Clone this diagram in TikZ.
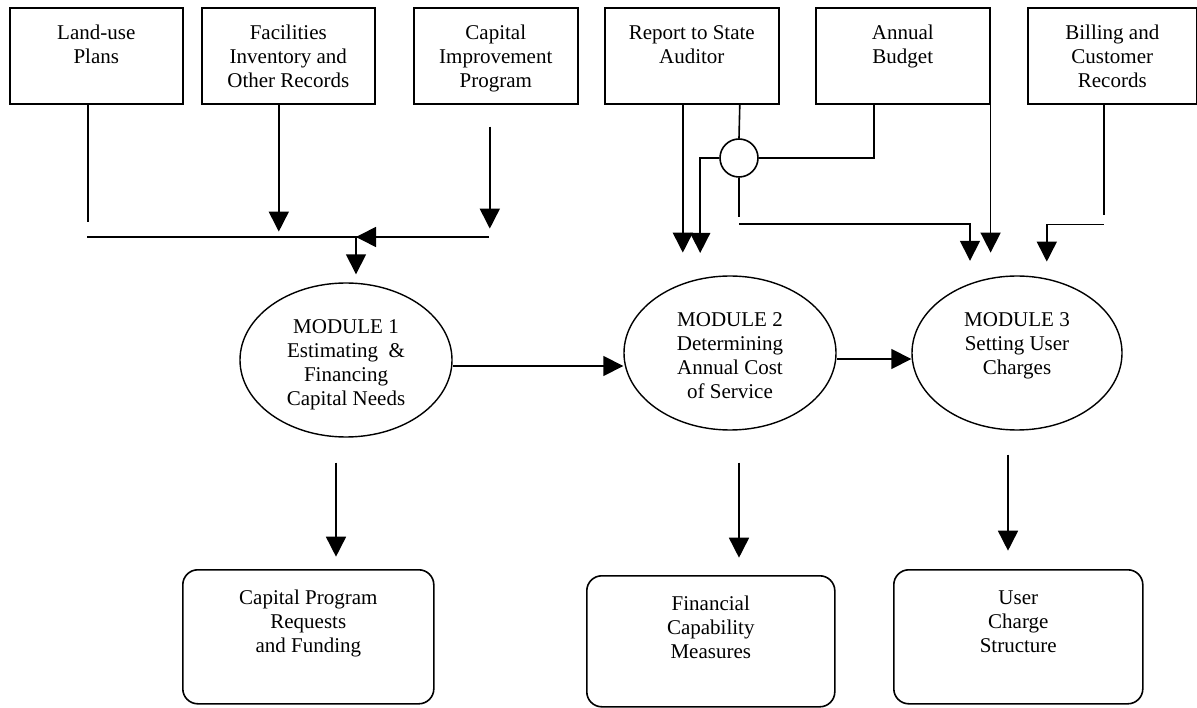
\documentclass[tikz,border=0pt]{standalone}
\usepackage{fontspec}
\setmainfont{Liberation Serif}
\usepackage{tikz}
\usetikzlibrary{arrows.meta,shapes.geometric}

\newcommand{\topbox}[2]{\parbox[c][96pt][t]{#1}{\centering\rule{0pt}{32pt}#2}}
\newcommand{\modtext}[1]{\parbox[c][108pt][t]{148pt}{\centering\rule{0pt}{28pt}#1}}
\newcommand{\outtext}[3]{\parbox[c][#1][t]{#2}{\centering\rule{0pt}{35pt}#3}}

\begin{document}
\begin{tikzpicture}[x=1pt,y=-1pt,>={Triangle[length=20pt,width=20pt]},
  line width=1.6pt,font=\fontsize{21}{24}\selectfont,
  src/.style={draw,inner sep=0pt,anchor=north west},
  module/.style={draw,ellipse,inner sep=0pt,minimum width=212pt,minimum height=154pt,line width=1.4pt},
  result/.style={draw,rounded corners=15pt,inner sep=0pt,anchor=north west},
  joint/.style={draw,circle,inner sep=0pt,minimum size=38pt}]
\useasboundingbox (0,0) rectangle (1197,708);

% input records
\node[src] (lu)  at (9,7)    {\topbox{173pt}{Land-use\\Plans}};
\node[src] (fac) at (201,7)  {\topbox{173pt}{Facilities\\Inventory and\\Other Records}};
\node[src] (cip) at (413,7)  {\topbox{164pt}{Capital\\Improvement\\Program}};
\node[src] (rsa) at (604,7)  {\topbox{174pt}{Report to State\\Auditor}};
\node[src] (ab)  at (815,7)  {\topbox{174pt}{Annual\\Budget}};
\node[src] (bcr) at (1027,7) {\topbox{169pt}{Billing and\\Customer\\Records}};
\node[joint] (sum) at (739,158) {};

% modules
\node[module] (m1) at (346,360)  {\modtext{MODULE 1\\Estimating~ \&\\Financing\\Capital Needs}};
\node[module] (m2) at (730,353)  {\modtext{MODULE 2\\Determining\\Annual Cost\\of Service}};
\node[module,minimum width=210pt] (m3) at (1017,353) {\modtext{MODULE 3\\Setting User\\Charges}};

% outputs
\node[result] (cpr) at (182,569) {\outtext{134pt}{251pt}{Capital Program\\Requests\\ and Funding}};
\node[result] (fcm) at (586,575) {\outtext{131pt}{248pt}{Financial\\Capability\\Measures}};
\node[result] (ucs) at (893,569) {\outtext{134pt}{249pt}{User\\Charge\\Structure}};

% collecting line into module 1
\coordinate (bus-w)  at (87,237);
\coordinate (bus-in) at (356,237);
\coordinate (bus-e)  at (489,237);
\draw ([xshift=-8.5pt]lu.south) -- ++(0,117);
\draw[->] ([xshift=-9.5pt]fac.south) -- ++(0,127);
\draw[->] ([xshift=-6pt,yshift=-22pt]cip.south) -- ++(0,102);
\draw (bus-w) -- (bus-e);
\draw[->] (bus-e) -- (bus-in);
\draw[->,shorten >=8pt] (bus-in) -- (bus-in |- m1.north);

% inputs of modules 2 and 3
\draw[->] ([xshift=-9pt]rsa.south) -- ++(0,148);
\draw ([xshift=48pt]rsa.south) -- (sum.north);
\draw ([xshift=-29pt]ab.south) |- (sum.east);
\draw[->] (sum.west) -- ++(-19,0) -- ++(0,95);
\draw (sum.south) -- ++(0,39);
\draw[->] ([yshift=-46pt]sum.south) -| ++(231,37);
\draw[->] (ab.south east) -- ++(0,148);
\draw ([xshift=-8.5pt]bcr.south) -- ++(0,110);
\draw[->] ([xshift=-8.5pt,yshift=-120pt]bcr.south) -| ++(-57,37);

% module chain
\draw[->] ([yshift=-6pt]m1.east) -- ([yshift=-6pt]m1.east -| m2.west);
\draw[->] ([yshift=-6pt]m2.east) -- ([yshift=-6pt]m2.east -| m3.west);

% results
\draw[->] ([xshift=-10pt,yshift=-25pt]m1.south) -- ++(0,94);
\draw[->] ([xshift=9pt,yshift=-32pt]m2.south) -- ++(0,95);
\draw[->] ([xshift=-9pt,yshift=-24pt]m3.south) -- ++(0,96);
\end{tikzpicture}
\end{document}
